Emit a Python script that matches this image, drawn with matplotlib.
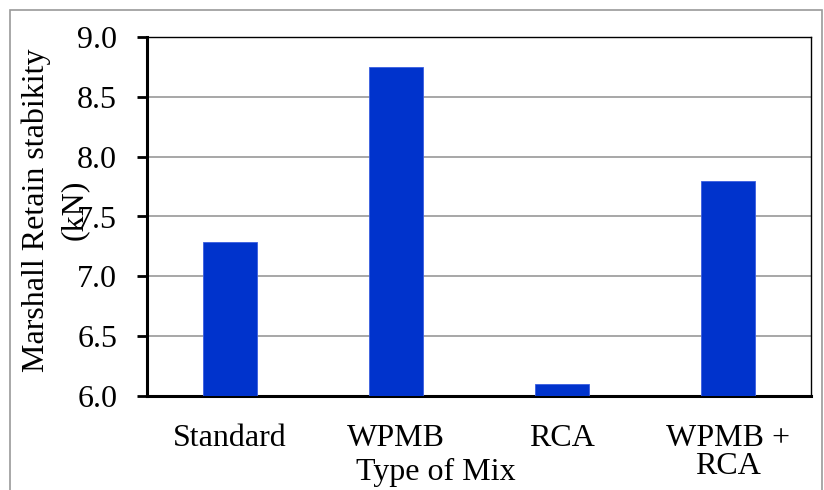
import matplotlib.pyplot as plt
from matplotlib.patches import Rectangle

# data
mixes = ['Standard', 'WPMB', 'RCA', 'WPMB +\nRCA']
stability = [7.29, 8.75, 6.10, 7.80]
yticks = [6.0, 6.5, 7.0, 7.5, 8.0, 8.5, 9.0]

plt.rcParams['font.family'] = ['Liberation Serif', 'DejaVu Serif']

W, H = 824, 490
fig = plt.figure(figsize=(W / 100, H / 100), dpi=100)
ax = fig.add_axes([147 / W, 1 - 396 / H, (811 - 147) / W, (396 - 37) / H])

x = range(len(mixes))
ax.bar(x, stability, width=0.33, color='#0033cc', edgecolor='#3a5ee0',
       linewidth=0.6, zorder=3)

ax.set_ylim(6.0, 9.0)
ax.set_xlim(-0.5, len(mixes) - 0.5)
ax.set_yticks(yticks)
ax.set_yticklabels([f'{v:.1f}' for v in yticks], fontsize=23)
ax.set_xticks(list(x))
ax.set_xticklabels(mixes, fontsize=23, linespacing=0.95, va='top')
ax.tick_params(axis='x', length=0, pad=20)
ax.tick_params(axis='y', length=7.5, width=2, direction='out', pad=14)
ax.yaxis.grid(True, color='#a0a0a0', linewidth=1.3, zorder=0)

for side in ['left', 'bottom']:
    ax.spines[side].set_linewidth(2.2)
    ax.spines[side].set_color('black')
for side in ['top', 'right']:
    ax.spines[side].set_linewidth(1)
    ax.spines[side].set_color('black')

# y label in two pieces, like the wrapped label of the original
fig.text(36 / W, 1 - 210 / H, 'Marshall Retain stabikity', rotation=90,
         fontsize=23, ha='center', va='center')
fig.text(74 / W, 1 - 210 / H, '(kN)', rotation=90,
         fontsize=23, ha='center', va='center')
fig.text(436 / W, 1 - 472 / H, 'Type of Mix', fontsize=23,
         ha='center', va='center')

# light gray outer frame
fig.patches.append(Rectangle((10 / W, -0.1), (822 - 10) / W, 1.1 - 10 / H,
                             transform=fig.transFigure, fill=False,
                             edgecolor='#9a9a9a', linewidth=1.2))

fig.savefig('out.png', dpi=100)
